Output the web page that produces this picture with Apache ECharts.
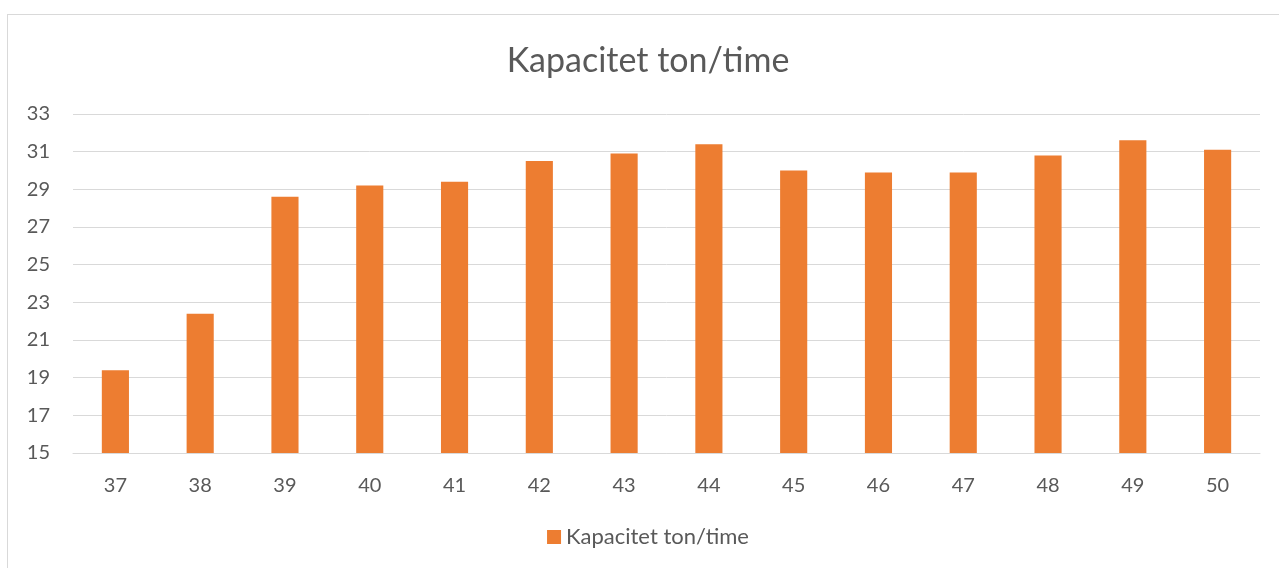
<!DOCTYPE html>
<html>
<head>
<meta charset="utf-8">
<script src="https://cdn.jsdelivr.net/npm/echarts@6/dist/echarts.min.js"></script>
<style>
  body { margin: 0; background: #fff; }
  #chart { position: absolute; left: 7px; top: 14px; width: 1280px; height: 560px; border: 1px solid #d9d9d9; }
</style>
</head>
<body>
<div id="chart"></div>
<script>
// uker
var weeks = ['37', '38', '39', '40', '41', '42', '43', '44', '45', '46', '47', '48', '49', '50'];
// kapacitet ton/time
var capacity = [19.4, 22.4, 28.6, 29.2, 29.4, 30.5, 30.9, 31.4, 30.0, 29.9, 29.9, 30.8, 31.6, 31.1];
var seriesName = 'Kapacitet ton/time';

var myChart = echarts.init(document.getElementById('chart'));
var textColor = '#595959';
var font = 'Lato, "Open Sans", sans-serif';

var option = {
    animation: false,
    title: {
        text: seriesName,
        left: 'center',
        top: 24,
        textStyle: { color: textColor, fontSize: 34, fontWeight: 'normal', fontFamily: font }
    },
    legend: {
        bottom: 22,
        left: 'center',
        itemWidth: 14,
        itemHeight: 14,
        itemGap: 6,
        icon: 'rect',
        textStyle: { color: textColor, fontSize: 22, fontFamily: font },
        data: [seriesName]
    },
    grid: { left: 65, right: 28, top: 99, bottom: 122 },
    xAxis: {
        type: 'category',
        data: weeks,
        axisTick: { show: false },
        axisLine: { lineStyle: { color: '#d9d9d9' } },
        axisLabel: { color: textColor, fontSize: 20, margin: 23, fontFamily: font }
    },
    yAxis: {
        type: 'value',
        min: 15,
        max: 33,
        interval: 2,
        axisLine: { show: false },
        axisTick: { show: false },
        splitLine: { lineStyle: { color: '#d9d9d9', width: 1 } },
        axisLabel: { color: textColor, fontSize: 20, margin: 23, fontFamily: font }
    },
    series: [{
        name: seriesName,
        type: 'bar',
        barWidth: '32%',
        itemStyle: { color: '#ED7D31' },
        data: capacity
    }]
};
myChart.setOption(option);
</script>
</body>
</html>
